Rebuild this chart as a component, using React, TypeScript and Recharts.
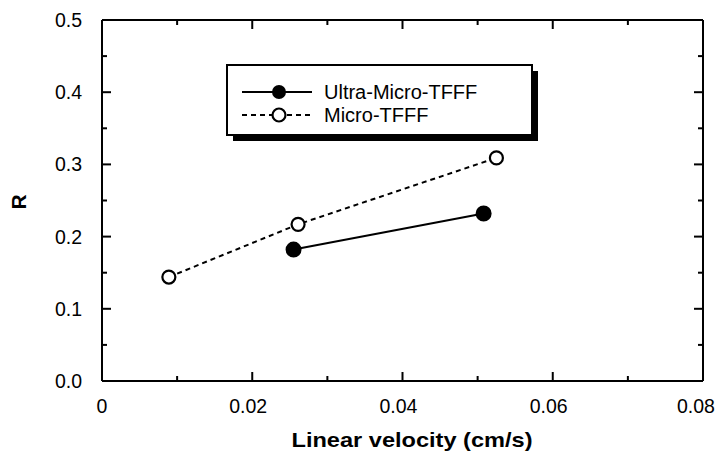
import { ScatterChart, Scatter, XAxis, YAxis, Legend, Label } from 'recharts'

// Ultra-Micro-TFFF
const ultraVel = [0.0255, 0.0508]
const ultraR = [0.182, 0.232]
// Micro-TFFF
const microVel = [0.0089, 0.0261, 0.0525]
const microR = [0.144, 0.217, 0.309]

const xTicks = [0, 0.01, 0.02, 0.03, 0.04, 0.05, 0.06, 0.07, 0.08]
const xLabels = ['0', '', '0.02', '', '0.04', '', '0.06', '', '0.08']
const yTicks = [0, 0.05, 0.1, 0.15, 0.2, 0.25, 0.3, 0.35, 0.4, 0.45, 0.5]
const yLabels = ['0.0', '', '0.1', '', '0.2', '', '0.3', '', '0.4', '', '0.5']

const ultraData = ultraVel.map((v, i) => ({ v, r: ultraR[i] }))
const microData = microVel.map((v, i) => ({ v, r: microR[i] }))

const FONT = 'Liberation Sans, Arial, sans-serif'
const MAJOR = 9
const MINOR = 5

const BottomTick = ({ x, y, index }: any) => {
  const lab = xLabels[index]
  const shift = index === 0 ? 0 : index === 8 ? -7 : -4
  return (
    <g>
      <line x1={x} x2={x} y1={y} y2={y - (lab ? MAJOR : MINOR)} stroke="#000" strokeWidth={2} />
      {lab && (
        <text x={x + shift} y={y + 25} textAnchor="middle" dominantBaseline="central" fontSize={19.5} fontFamily={FONT} fill="#000">
          {lab}
        </text>
      )}
    </g>
  )
}

const TopTick = ({ x, y, index }: any) => (
  <line x1={x} x2={x} y1={y} y2={y + (xLabels[index] ? MAJOR : MINOR)} stroke="#000" strokeWidth={2} />
)

const LeftTick = ({ x, y, index }: any) => {
  const lab = yLabels[index]
  return (
    <g>
      <line x1={x} x2={x + (lab ? MAJOR : MINOR)} y1={y} y2={y} stroke="#000" strokeWidth={2} />
      {lab && (
        <text x={x - 20} y={y} textAnchor="end" dominantBaseline="central" fontSize={19.5} fontFamily={FONT} fill="#000">
          {lab}
        </text>
      )}
    </g>
  )
}

const RightTick = ({ x, y, index }: any) => (
  <line x1={x} x2={x - (yLabels[index] ? MAJOR : MINOR)} y1={y} y2={y} stroke="#000" strokeWidth={2} />
)

const FilledDot = ({ cx, cy }: any) => <circle cx={cx} cy={cy} r={7} fill="#000" stroke="#000" strokeWidth={2} />
const OpenDot = ({ cx, cy }: any) => <circle cx={cx} cy={cy} r={6.5} fill="#fff" stroke="#000" strokeWidth={2.2} />

const LegendBox = () => (
  <svg width={314} height={80} style={{ display: 'block' }}>
    <rect x={7} y={7} width={305} height={70} fill="#000" />
    <rect x={1} y={1} width={305} height={70} fill="#fff" stroke="#000" strokeWidth={2} />
    <line x1={16} x2={86} y1={28} y2={28} stroke="#000" strokeWidth={2} />
    <circle cx={53} cy={28} r={7} fill="#000" />
    <text x={98} y={28} dominantBaseline="central" fontSize={20} fontFamily={FONT} fill="#000">Ultra-Micro-TFFF</text>
    <line x1={16} x2={86} y1={51} y2={51} stroke="#000" strokeWidth={2} strokeDasharray="5 4" />
    <circle cx={53} cy={51} r={6.5} fill="#fff" stroke="#000" strokeWidth={2.2} />
    <text x={98} y={51} dominantBaseline="central" fontSize={20} fontFamily={FONT} fill="#000">Micro-TFFF</text>
  </svg>
)

export default function App() {
  return (
    <div style={{ position: 'absolute', left: 0, top: 0, background: '#fff' }}>
      <ScatterChart width={717} height={451} margin={{ top: 19, right: 13, bottom: 0, left: 0 }}>
        <XAxis
          xAxisId="b" type="number" dataKey="v" domain={[0, 0.08]} ticks={xTicks} interval={0}
          height={70} tickSize={0} tickMargin={0} tick={<BottomTick />}
          axisLine={{ stroke: '#000', strokeWidth: 2 }} allowDataOverflow
        >
          <Label
            content={({ viewBox }: any) => (
              <text x={412} y={viewBox.y + 66} textAnchor="middle" fontSize={21} fontWeight="bold" fontFamily={FONT} fill="#000"
                textLength={241} lengthAdjust="spacingAndGlyphs">
                Linear velocity (cm/s)
              </text>
            )}
          />
        </XAxis>
        <XAxis
          xAxisId="t" orientation="top" type="number" dataKey="v" domain={[0, 0.08]} ticks={xTicks} interval={0}
          height={1} tickSize={0} tickMargin={0} tick={<TopTick />}
          axisLine={{ stroke: '#000', strokeWidth: 2 }} allowDataOverflow
        />
        <YAxis
          yAxisId="l" type="number" dataKey="r" domain={[0, 0.5]} ticks={yTicks} interval={0}
          width={102} tickSize={0} tickMargin={0} tick={<LeftTick />}
          axisLine={{ stroke: '#000', strokeWidth: 2 }} allowDataOverflow
        >
          <Label
            content={() => (
              <text x={18} y={202} transform="rotate(-90 18 202)" textAnchor="middle" dominantBaseline="central" fontSize={21} fontWeight="bold" fontFamily={FONT} fill="#000">
                R
              </text>
            )}
          />
        </YAxis>
        <YAxis
          yAxisId="rt" orientation="right" type="number" dataKey="r" domain={[0, 0.5]} ticks={yTicks} interval={0}
          width={1} tickSize={0} tickMargin={0} tick={<RightTick />}
          axisLine={{ stroke: '#000', strokeWidth: 2 }} allowDataOverflow
        />
        <Legend
          layout="vertical" align="center" verticalAlign="middle"
          wrapperStyle={{ left: 226, top: 64, width: 314, height: 80 }}
          content={() => <LegendBox />}
        />
        <Scatter
          name="Ultra-Micro-TFFF" data={ultraData} xAxisId="b" yAxisId="l"
          line={{ stroke: '#000', strokeWidth: 2 }} shape={<FilledDot />} isAnimationActive={false}
        />
        <Scatter
          name="Micro-TFFF" data={microData} xAxisId="b" yAxisId="l"
          line={{ stroke: '#000', strokeWidth: 2, strokeDasharray: '5 4' }} shape={<OpenDot />} isAnimationActive={false}
        />
      </ScatterChart>
    </div>
  )
}
